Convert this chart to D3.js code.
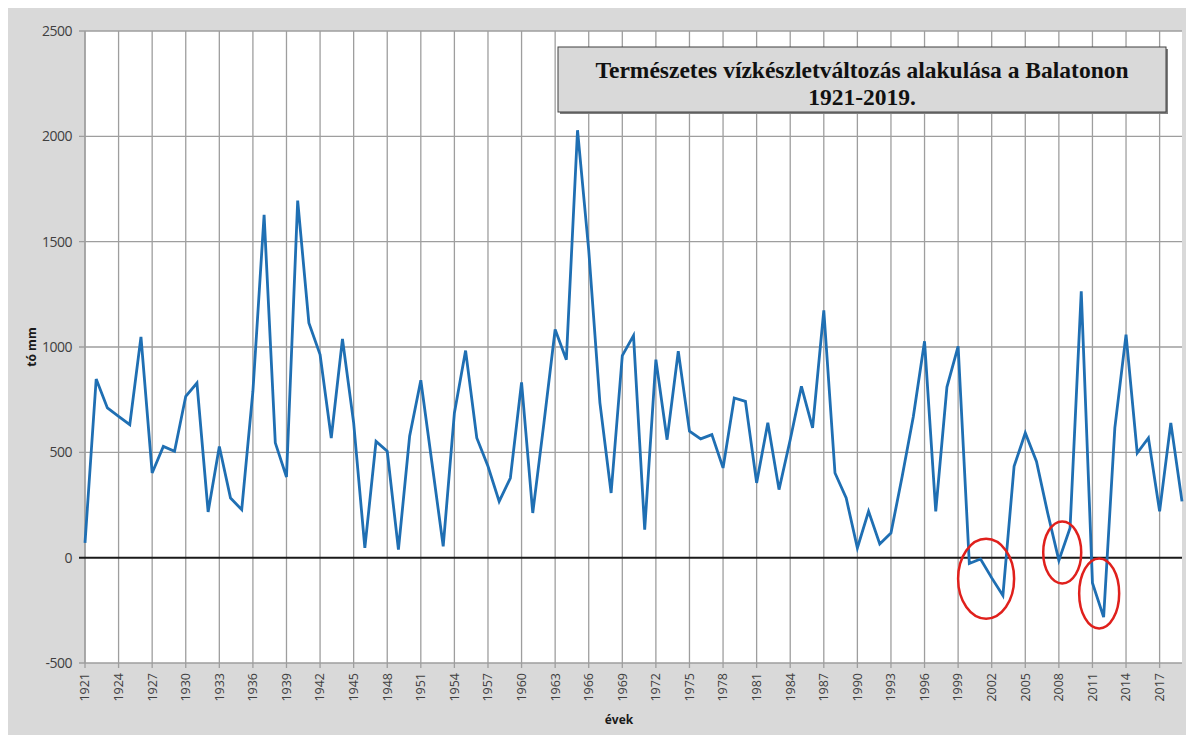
<!DOCTYPE html>
<html>
<head>
<meta charset="utf-8">
<script src="https://cdn.jsdelivr.net/npm/d3@7"></script>
<style>
  body { margin: 0; background: #fff; }
  svg { display: block; }
</style>
</head>
<body>
<div id="chart"></div>
<script>
// years 1921..2019
const years = d3.range(1921, 2020);
// természetes vízkészletváltozás, tó mm
const values = [
    70, 848, 711, 671, 631, 1048, 402, 528, 505, 766,
    829, 217, 528, 283, 228, 790, 1627, 545, 383, 1695,
    1114, 964, 568, 1038, 640, 46, 552, 505, 38, 576,
    842, 448, 54, 687, 983, 568, 434, 267, 378, 832,
    212, 640, 1083, 940, 2029, 1460, 735, 307, 959, 1054,
    133, 940, 560, 980, 600, 564, 584, 426, 758, 742,
    355, 640, 323, 560, 813, 616, 1174, 402, 283, 46,
    220, 65, 117, 385, 670, 1027, 220, 810, 1003, -28,
    -6, -96, -180, 434, 592, 457, 212, -13, 141, 1264,
    -120, -282, 616, 1059, 497, 568, 220, 640, 267
];
const yTicks = [-500, 0, 500, 1000, 1500, 2000, 2500];
const xTickYears = d3.range(1921, 2020, 3);
const titleLines = ['Természetes vízkészletváltozás alakulása a Balatonon', '1921-2019.'];
// red ellipses marking the negative years (centre year / value)
const marks = [
    { year: 2001.5, value: -100 },
    { year: 2008.3, value: 25 },
    { year: 2011.6, value: -170 }
];
const markRadii = [[28, 40], [19, 31], [20, 35]];

const width = 1186, height = 743;
const margin = { top: 31, right: 4, bottom: 80, left: 85 };

const svg = d3.select('#chart').append('svg')
    .attr('width', width)
    .attr('height', height);

// grey chart background
svg.append('rect')
    .attr('x', 8).attr('y', 8)
    .attr('width', width - 8).attr('height', 727)
    .attr('fill', '#d9d9d9');

const x = d3.scaleLinear()
    .domain([1921, 2019])
    .range([margin.left, width - margin.right]);

const y = d3.scaleLinear()
    .domain([-500, 2500])
    .range([height - margin.bottom, margin.top]);

// plot area
svg.append('rect')
    .attr('x', x(1921)).attr('y', y(2500))
    .attr('width', x(2019) - x(1921)).attr('height', y(-500) - y(2500))
    .attr('fill', '#fff');

// vertical grid
svg.append('g')
    .selectAll('line')
    .data(xTickYears)
    .join('line')
    .attr('x1', d => x(d)).attr('x2', d => x(d))
    .attr('y1', y(2500)).attr('y2', y(-500) + 5)
    .attr('stroke', '#9e9e9e')
    .attr('stroke-width', 1.3);

// horizontal grid
svg.append('g')
    .selectAll('line')
    .data(yTicks.filter(d => d !== 0))
    .join('line')
    .attr('x1', x(1921) - 6).attr('x2', x(2019))
    .attr('y1', d => y(d)).attr('y2', d => y(d))
    .attr('stroke', '#9e9e9e')
    .attr('stroke-width', 1.3);

// left axis line
svg.append('line')
    .attr('x1', x(1921)).attr('x2', x(1921))
    .attr('y1', y(2500)).attr('y2', y(-500))
    .attr('stroke', '#9e9e9e')
    .attr('stroke-width', 1.3);

// zero line
svg.append('line')
    .attr('x1', x(1921) - 6).attr('x2', x(2019))
    .attr('y1', y(0)).attr('y2', y(0))
    .attr('stroke', '#1a1a1a')
    .attr('stroke-width', 2);

// y tick labels
svg.append('g')
    .selectAll('text')
    .data(yTicks)
    .join('text')
    .attr('x', x(1921) - 13)
    .attr('y', d => y(d))
    .attr('dy', '0.35em')
    .attr('text-anchor', 'end')
    .style('font-family', '"Open Sans", "DejaVu Sans", sans-serif')
    .style('font-size', '14px')
    .style('letter-spacing', '-0.5px')
    .attr('fill', '#404040')
    .text(d => d);

// x tick labels, rotated
svg.append('g')
    .selectAll('text')
    .data(xTickYears)
    .join('text')
    .attr('transform', d => `translate(${x(d)},${y(-500) + 10}) rotate(-90)`)
    .attr('text-anchor', 'end')
    .attr('dy', '0.35em')
    .style('font-family', '"Open Sans", "DejaVu Sans", sans-serif')
    .style('font-size', '12.5px')
    .attr('fill', '#404040')
    .text(d => d);

// axis titles
svg.append('text')
    .attr('transform', `translate(32,${y(1000)}) rotate(-90)`)
    .attr('text-anchor', 'middle')
    .attr('dy', '0.35em')
    .style('font-family', '"Open Sans", "DejaVu Sans", sans-serif')
    .style('font-size', '12px')
    .style('font-weight', 'bold')
    .attr('fill', '#1a1a1a')
    .text('tó mm');

svg.append('text')
    .attr('x', 619)
    .attr('y', 724)
    .attr('text-anchor', 'middle')
    .style('font-family', '"Open Sans", "DejaVu Sans", sans-serif')
    .style('font-size', '12px')
    .style('font-weight', 'bold')
    .attr('fill', '#1a1a1a')
    .text('évek');

// data line
const line = d3.line()
    .x((d, i) => x(years[i]))
    .y(d => y(d));

svg.append('path')
    .datum(values)
    .attr('d', line)
    .attr('fill', 'none')
    .attr('stroke', '#1f6fb3')
    .attr('stroke-width', 2.8)
    .attr('stroke-linejoin', 'miter');

// red ellipses
svg.append('g')
    .selectAll('ellipse')
    .data(marks)
    .join('ellipse')
    .attr('cx', d => x(d.year))
    .attr('cy', d => y(d.value))
    .attr('rx', (d, i) => markRadii[i][0])
    .attr('ry', (d, i) => markRadii[i][1])
    .attr('fill', 'none')
    .attr('stroke', '#e0201c')
    .attr('stroke-width', 2.5);

// title box
const tb = svg.append('g');
tb.append('rect')
    .attr('x', 560).attr('y', 49)
    .attr('width', 608).attr('height', 65)
    .attr('fill', '#7f7f7f');
tb.append('rect')
    .attr('x', 558).attr('y', 47)
    .attr('width', 608).attr('height', 65)
    .attr('fill', '#d9d9d9')
    .attr('stroke', '#404040')
    .attr('stroke-width', 1);
tb.selectAll('text')
    .data(titleLines)
    .join('text')
    .attr('x', 862)
    .attr('y', (d, i) => 78 + i * 27)
    .attr('text-anchor', 'middle')
    .style('font-family', '"Liberation Serif", "Times New Roman", serif')
    .style('font-size', '23.5px')
    .style('font-weight', 'bold')
    .attr('fill', '#111')
    .text(d => d);
</script>
</body>
</html>
